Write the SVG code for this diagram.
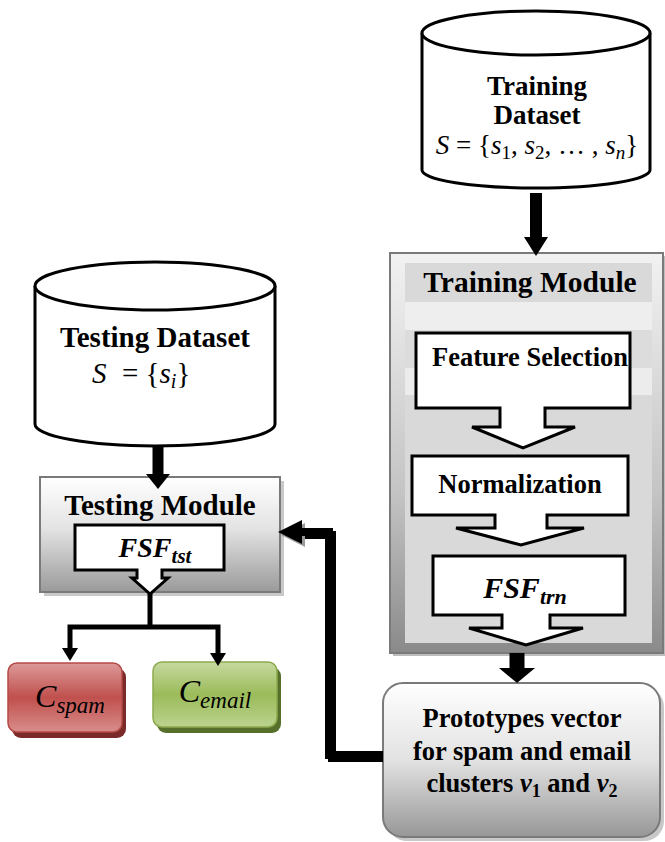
<svg xmlns="http://www.w3.org/2000/svg" width="665" height="842" viewBox="0 0 665 842">
<style>
.t{font-family:"Liberation Serif","Times New Roman",serif;font-weight:bold;fill:#000}
.m{font-family:"Liberation Serif","Times New Roman",serif;font-style:italic;fill:#000}
.mr{font-style:normal}
.blk{fill:#fff;stroke:#000;stroke-width:3;stroke-linejoin:miter}
.cyl{fill:#fff;stroke:#000;stroke-width:3}
.con{fill:none;stroke:#000;stroke-linejoin:miter}
.head{fill:#000}
</style>
<defs>
<linearGradient id="gTrain" x1="0" y1="0" x2="0" y2="1">
<stop offset="0" stop-color="#f2f2f2"/><stop offset="0.6" stop-color="#c4c4c4"/><stop offset="1" stop-color="#8a8a8a"/>
</linearGradient>
<linearGradient id="gTest" x1="0" y1="0" x2="0" y2="1">
<stop offset="0" stop-color="#ffffff"/><stop offset="0.45" stop-color="#e3e3e3"/><stop offset="1" stop-color="#9a9a9a"/>
</linearGradient>
<linearGradient id="gProto" x1="0" y1="0" x2="0" y2="1">
<stop offset="0" stop-color="#ffffff"/><stop offset="0.5" stop-color="#e2e2e2"/><stop offset="1" stop-color="#979797"/>
</linearGradient>
<linearGradient id="gRed" x1="0" y1="0" x2="0" y2="1">
<stop offset="0" stop-color="#dc9a99"/><stop offset="0.5" stop-color="#c0504d"/><stop offset="1" stop-color="#d88d8b"/>
</linearGradient>
<linearGradient id="gGreen" x1="0" y1="0" x2="0" y2="1">
<stop offset="0" stop-color="#c6d9a0"/><stop offset="0.5" stop-color="#9bbb59"/><stop offset="1" stop-color="#bcd38f"/>
</linearGradient>
</defs>

<g id="training-dataset">
<path class="cyl" d="M422,33 V170 A114,18 0 0 0 650,170 V33"/>
<ellipse class="cyl" cx="536" cy="33" rx="114" ry="22"/>
<text class="t" x="537" y="95" font-size="27" text-anchor="middle">Training</text>
<text class="t" x="537" y="124" font-size="27" text-anchor="middle">Dataset</text>
<text class="m" x="537" y="154" font-size="27" text-anchor="middle">S <tspan class="mr">= {</tspan>s<tspan font-size="19" dy="5" class="mr">1</tspan><tspan dy="-5" class="mr">, </tspan>s<tspan font-size="19" dy="5" class="mr">2</tspan><tspan dy="-5" class="mr">, … , </tspan>s<tspan font-size="19" dy="5">n</tspan><tspan dy="-5" class="mr">}</tspan></text>
</g>

<g id="training-module">
<rect x="393" y="256" width="273" height="400" fill="#bdbdbd"/>
<rect x="390" y="253" width="273" height="400" fill="url(#gTrain)" stroke="#7a7a7a" stroke-width="2"/>
<rect x="405" y="263" width="247" height="380" fill="#d9d9d9"/>
<rect x="405" y="302" width="247" height="28" fill="#eeeeee"/>
<rect x="405" y="330" width="247" height="38" fill="#dcdcdc"/>
<rect x="405" y="368" width="247" height="27" fill="#ececec"/>
<text class="t" x="530" y="292" font-size="29.5" text-anchor="middle">Training Module</text>
</g>

<g id="feature-selection">
<polygon class="blk" points="416,333 630,333 630,408 545,408 545,427 575,427 523,448 472,427 500,427 500,408 416,408"/>
<text class="t" x="530" y="366" font-size="26.5" text-anchor="middle">Feature Selection</text>
</g>

<g id="normalization">
<polygon class="blk" points="412,456 628,456 628,515 547,515 547,528 584,528 521,545 456,528 495,528 495,515 412,515"/>
<text class="t" x="520" y="493" font-size="26.5" text-anchor="middle">Normalization</text>
</g>

<g id="fsf-trn">
<polygon class="blk" points="433,556 625,556 625,615 550,615 550,628 583,628 526,645 469,628 502,628 502,615 433,615"/>
<text class="m" x="525" y="598" font-size="30" text-anchor="middle" font-weight="bold">FSF<tspan font-size="22" dy="6">trn</tspan></text>
</g>

<g id="prototypes">
<rect x="387" y="687" width="277" height="154" rx="20" fill="#c8c8c8"/>
<rect x="383" y="683" width="277" height="154" rx="20" fill="url(#gProto)" stroke="#7a7a7a" stroke-width="2"/>
<text class="t" x="522" y="727" font-size="26.5" text-anchor="middle">Prototypes vector</text>
<text class="t" x="522" y="760" font-size="26.5" text-anchor="middle">for spam and email</text>
<text class="t" x="522" y="792" font-size="26.5" text-anchor="middle">clusters <tspan class="m">v</tspan><tspan font-size="18" dy="5">1</tspan><tspan dy="-5"> and </tspan><tspan class="m">v</tspan><tspan font-size="18" dy="5">2</tspan></text>
</g>

<g id="testing-dataset">
<path class="cyl" d="M35,286 V424 A120,22 0 0 0 275,424 V286"/>
<ellipse class="cyl" cx="155" cy="286" rx="120" ry="24"/>
<text class="t" x="155" y="347" font-size="29" text-anchor="middle">Testing Dataset</text>
<text class="m" x="92" y="383" font-size="29">S</text>
<text class="m" x="122" y="383" font-size="29"><tspan class="mr">= {</tspan>s<tspan font-size="20" dy="5">i</tspan><tspan class="mr" dy="-5">}</tspan></text>
</g>

<g id="testing-module">
<rect x="44" y="481" width="240" height="115" fill="#c9c9c9"/>
<rect x="40" y="477" width="240" height="115" fill="url(#gTest)" stroke="#7a7a7a" stroke-width="2"/>
<text class="t" x="160" y="515" font-size="29" text-anchor="middle">Testing Module</text>
</g>

<g id="fsf-tst">
<polygon class="blk" points="75,525 224,525 224,570 162,570 162,578 168,578 150,594 132,578 137,578 137,570 75,570"/>
<text class="m" x="155" y="557" font-size="28" text-anchor="middle" font-weight="bold">FSF<tspan font-size="21" dy="6">tst</tspan></text>
</g>

<g id="c-spam">
<rect x="12" y="668" width="114" height="70" rx="9" fill="#7a2b29"/>
<rect x="8" y="663" width="114" height="69" rx="9" fill="url(#gRed)" stroke="#b54a47" stroke-width="1.5"/>
<text class="m" x="70" y="707" font-size="32" text-anchor="middle">C<tspan font-size="23" dy="6">spam</tspan></text>
</g>

<g id="c-email">
<rect x="157" y="667" width="124" height="66" rx="9" fill="#56702c"/>
<rect x="153" y="662" width="124" height="65" rx="9" fill="url(#gGreen)" stroke="#8caa4e" stroke-width="1.5"/>
<text class="m" x="215" y="702" font-size="32" text-anchor="middle">C<tspan font-size="23" dy="6">email</tspan></text>
</g>

<g id="connectors">
<line class="con" x1="536" y1="193" x2="536" y2="240" stroke-width="12"/>
<polygon class="head" points="524,237 548,237 536,256"/>
<line class="con" x1="158" y1="445" x2="158" y2="476" stroke-width="11"/>
<polygon class="head" points="146,474 170,474 158,489"/>
<line class="con" x1="517" y1="653" x2="517" y2="670" stroke-width="15"/>
<polygon class="head" points="499,668 535,668 517,683"/>
<path class="con" d="M383,758 H332 V535 H303" stroke="#9a9a9a" stroke-width="8"/>
<polygon points="281,535 305,523 305,547" fill="#9a9a9a"/>
<path class="con" d="M383,755 H329 V532 H300" stroke-width="8"/>
<polygon class="head" points="278,532 302,520 302,544"/>
<path class="con" d="M150,593 V627" stroke-width="5"/>
<path class="con" d="M70,650 V627 H218 V655" stroke-width="5"/>
<polygon class="head" points="62,648 78,648 70,661"/>
<polygon class="head" points="210,653 226,653 218,666"/>
</g>
</svg>
